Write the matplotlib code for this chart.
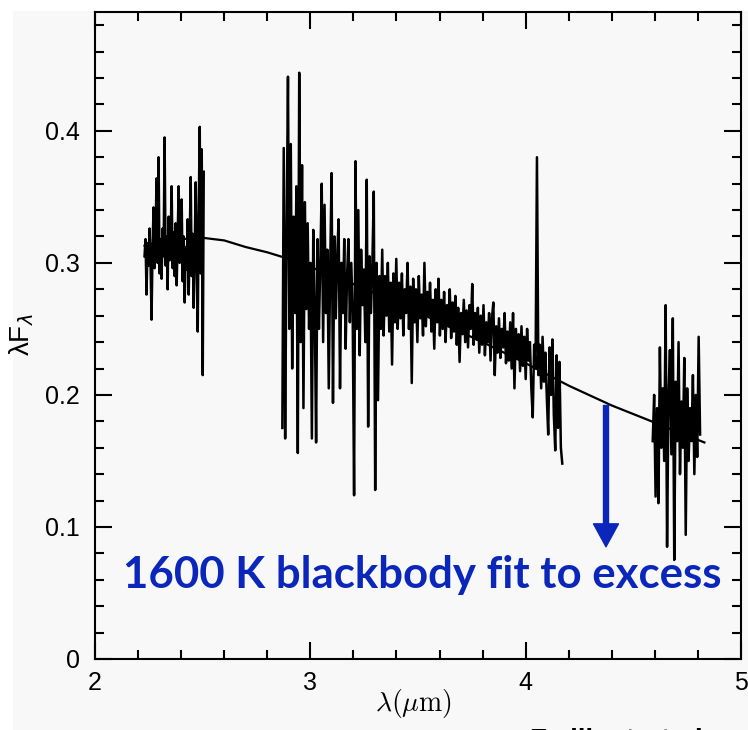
import matplotlib
matplotlib.use("Agg")
import matplotlib.pyplot as plt
from matplotlib.patches import Rectangle
import numpy as np

# spectrum segments: (start, end) wavelength in micron, flux values
seg1_range = (2.23, 2.505)
seg1_flux = [
    0.305, 0.318, 0.276, 0.315, 0.298, 0.326, 0.300, 0.257, 0.312, 0.342,
    0.296, 0.322, 0.364, 0.300, 0.380, 0.292, 0.318, 0.288, 0.326, 0.305,
    0.395, 0.298, 0.320, 0.280, 0.335, 0.302, 0.317, 0.358, 0.296, 0.323,
    0.290, 0.330, 0.283, 0.318, 0.358, 0.300, 0.314, 0.348, 0.286, 0.320,
    0.270, 0.312, 0.295, 0.333, 0.276, 0.316, 0.365, 0.290, 0.322, 0.266,
    0.310, 0.361, 0.300, 0.248, 0.340, 0.403, 0.292, 0.386, 0.215, 0.369,
]

seg2_range = (2.87, 4.17)
seg2_flux = [
    0.175, 0.387, 0.167, 0.320, 0.441, 0.250, 0.390, 0.220, 0.335, 0.262,
    0.358, 0.156, 0.444, 0.240, 0.374, 0.190, 0.346, 0.265, 0.330, 0.250,
    0.300, 0.167, 0.325, 0.270, 0.164, 0.318, 0.250, 0.300, 0.360, 0.240,
    0.344, 0.262, 0.310, 0.205, 0.295, 0.368, 0.194, 0.320, 0.258, 0.305,
    0.333, 0.205, 0.300, 0.262, 0.318, 0.235, 0.290, 0.318, 0.255, 0.300,
    0.262, 0.124, 0.377, 0.250, 0.340, 0.230, 0.310, 0.268, 0.295, 0.240,
    0.363, 0.176, 0.305, 0.262, 0.300, 0.354, 0.128, 0.300, 0.196, 0.290,
    0.250, 0.310, 0.245, 0.290, 0.260, 0.300, 0.248, 0.285, 0.223, 0.292,
    0.255, 0.303, 0.250, 0.285, 0.258, 0.292, 0.245, 0.280, 0.262, 0.300,
    0.250, 0.282, 0.209, 0.288, 0.255, 0.280, 0.240, 0.290, 0.258, 0.276,
    0.245, 0.300, 0.252, 0.278, 0.260, 0.285, 0.248, 0.272, 0.235, 0.280,
    0.255, 0.288, 0.245, 0.272, 0.250, 0.278, 0.240, 0.268, 0.252, 0.280,
    0.243, 0.270, 0.248, 0.275, 0.238, 0.266, 0.225, 0.262, 0.246, 0.272,
    0.240, 0.264, 0.236, 0.268, 0.250, 0.284, 0.238, 0.262, 0.242, 0.266,
    0.232, 0.260, 0.238, 0.268, 0.230, 0.255, 0.240, 0.262, 0.226, 0.258,
    0.270, 0.215, 0.252, 0.232, 0.258, 0.228, 0.250, 0.236, 0.262, 0.224,
    0.248, 0.226, 0.255, 0.220, 0.262, 0.205, 0.250, 0.228, 0.246, 0.218,
    0.252, 0.222, 0.244, 0.212, 0.250, 0.226, 0.240, 0.205, 0.183, 0.238,
    0.220, 0.380, 0.215, 0.238, 0.205, 0.244, 0.210, 0.232, 0.198, 0.170,
    0.236, 0.200, 0.242, 0.185, 0.158, 0.230, 0.175, 0.225, 0.160, 0.148,
]

seg3_range = (4.59, 4.81)
seg3_flux = [
    0.165, 0.200, 0.123, 0.190, 0.118, 0.236, 0.160, 0.205, 0.150, 0.268,
    0.085, 0.200, 0.234, 0.155, 0.258, 0.075, 0.210, 0.165, 0.240, 0.140,
    0.195, 0.160, 0.228, 0.094, 0.205, 0.150, 0.190, 0.165, 0.215, 0.140,
    0.200, 0.153, 0.244, 0.170,
]

# 1600 K blackbody fit
fit_wave = [2.23, 2.3, 2.4, 2.5, 2.6, 2.7, 2.8, 2.9, 3.0, 3.2,
            3.4, 3.6, 3.8, 4.0, 4.2, 4.4, 4.6, 4.83]
fit_flux = [0.313, 0.316, 0.318, 0.319, 0.317, 0.312, 0.308, 0.303, 0.297, 0.284,
            0.270, 0.255, 0.240, 0.224, 0.207, 0.192, 0.179, 0.164]

xticks = [2, 3, 4, 5]
yticks = [0, 0.1, 0.2, 0.3, 0.4]
ytick_labels = ["0", "0.1", "0.2", "0.3", "0.4"]

arrow_wave = 4.373
arrow_top = 0.192
arrow_tip = 0.085

blue = "#0b26ba"
bg = "#f8f8f8"

fig = plt.figure(figsize=(7.48, 7.30), dpi=100, facecolor="white")
fig.patches.append(Rectangle((13 / 748, 0), 1, 719 / 730, transform=fig.transFigure,
                             facecolor=bg, edgecolor="none", zorder=-10))

ax = fig.add_axes([95 / 748, 71 / 730, 646 / 748, 647 / 730])
ax.set_facecolor(bg)

for (lo, hi), flux in [(seg1_range, seg1_flux), (seg2_range, seg2_flux),
                       (seg3_range, seg3_flux)]:
    wave = np.linspace(lo, hi, len(flux))
    ax.plot(wave, flux, color="black", linewidth=1.8)

ax.plot(fit_wave, fit_flux, color="black", linewidth=1.6)

ax.annotate("", xy=(arrow_wave, arrow_tip), xytext=(arrow_wave, arrow_top),
            arrowprops=dict(width=3.6, headwidth=18, headlength=16.5,
                            color=blue, shrink=0))

ax.text(3.519, 0.0538, "1600 K blackbody fit to excess", color=blue,
        fontsize=31.5, fontweight="bold", family="Lato",
        ha="center", va="baseline")

ax.set_xlim(2, 5)
ax.set_ylim(0, 0.49)
ax.set_xticks(xticks)
ax.set_xticklabels([str(t) for t in xticks])
ax.set_yticks(yticks)
ax.set_yticklabels(ytick_labels)
ax.set_xticks(np.arange(2, 5.01, 0.2), minor=True)
ax.set_yticks(np.arange(0, 0.49, 0.02), minor=True)

ax.tick_params(which="both", direction="in", top=True, right=True, width=1.5,
               labelsize=18)
ax.tick_params(which="major", length=12)
ax.tick_params(which="minor", length=6.5)
ax.tick_params(axis="y", pad=11)
ax.tick_params(axis="x", pad=9)
for lbl in ax.get_xticklabels() + ax.get_yticklabels():
    lbl.set_family("Liberation Sans")
for sp in ax.spines.values():
    sp.set_linewidth(1.5)

fig.text(22 / 748, 1 - 335 / 730, r"λF$_\lambda$", rotation=90, fontsize=20,
         family="Liberation Sans", ha="center", va="center")
fig.text(413 / 748, 27 / 730, r"$\lambda(\mu\mathrm{m})$", fontsize=20,
         math_fontfamily="cm", ha="center", va="center")

fig.text(530 / 748, 2.5 / 730, "Fe illustrated", fontsize=20, fontweight="bold",
         family="Liberation Sans", ha="left", va="top")

fig.savefig("out.png", dpi=100, facecolor=fig.get_facecolor())
